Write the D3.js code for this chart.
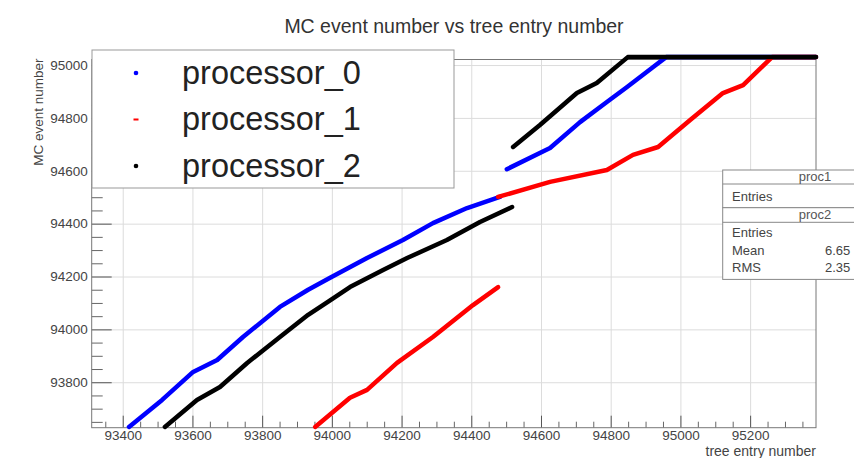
<!DOCTYPE html>
<html>
<head>
<meta charset="utf-8">
<script src="https://cdn.jsdelivr.net/npm/d3@7"></script>
<style>
  html, body { margin: 0; padding: 0; background: #fff; }
  svg { display: block; font-family: "Liberation Sans", Arial, sans-serif; }
</style>
</head>
<body>
<svg id="chart" width="854" height="458"></svg>
<script>
// ---------- data (tree entry number, MC event number) ----------
const proc0SegA = [[93418,93631],[93513,93733],[93602,93839],[93671,93884],[93745,93971],[93851,94085],[93932,94150],[93995,94195],[94101,94270],[94204,94338],[94290,94402],[94388,94459],[94482,94501]];
const proc0SegB = [[94502,94606],[94626,94686],[94712,94784],[94789,94860],[94847,94917],[94921,94992],[94959,95030],[95389,95030]];
const proc1SegA = [[93952,93631],[94052,93741],[94101,93771],[94187,93873],[94290,93971],[94405,94092],[94477,94160]];
const proc1SegB = [[94477,94501],[94626,94558],[94789,94603],[94864,94660],[94936,94690],[95028,94792],[95122,94894],[95180,94924],[95263,95030],[95389,95030]];
const proc2SegA = [[93521,93631],[93613,93733],[93679,93782],[93757,93873],[93851,93971],[93932,94055],[93995,94110],[94052,94160],[94147,94225],[94216,94270],[94330,94338],[94425,94406],[94517,94463]];
const proc2SegB = [[94520,94690],[94597,94773],[94703,94894],[94760,94932],[94849,95030],[95389,95030]];

const seriesNames = ["processor_0", "processor_1", "processor_2"];
const seriesColors = ["#0000ff", "#ff0000", "#000000"];
const seriesSegments = [[proc0SegA, proc0SegB], [proc1SegA, proc1SegB], [proc2SegA, proc2SegB]];

const xMajorTicks = [93400, 93600, 93800, 94000, 94200, 94400, 94600, 94800, 95000, 95200];
const yMajorTicks = [93800, 94000, 94200, 94400, 94600, 94800, 95000];
const xDomain = [93311, 95389];
const yDomain = [93628, 95021];

const titleText = "MC event number vs tree entry number";
const xTitle = "tree entry number";
const yTitle = "MC event number";

const statsProc1 = { name: "proc1", rows: [["Entries", ""]] };
const statsProc2 = { name: "proc2", rows: [["Entries", ""], ["Mean", "6.65"], ["RMS", "2.35"]] };

// ---------- layout ----------
const svg = d3.select("#chart");
const L = 91.7, R = 816, T = 59.5, B = 427.7;
const W = R - L, H = B - T;

const x = d3.scaleLinear().domain(xDomain).range([L, R]);
const y = d3.scaleLinear().domain(yDomain).range([B, T]);

svg.append("rect").attr("width", 854).attr("height", 458).attr("fill", "#fff");

// title
svg.append("text").attr("x", 454).attr("y", 33).attr("text-anchor", "middle")
  .attr("font-size", 19.5).attr("fill", "#333").text(titleText);

// grid
const gx = svg.append("g").attr("transform", `translate(0,${B})`)
  .call(d3.axisBottom(x).tickValues(xMajorTicks).tickSize(-H).tickFormat(""));
gx.select(".domain").remove();
gx.selectAll("line").attr("stroke", "#dcdcdc").attr("stroke-width", 1);
const gy = svg.append("g").attr("transform", `translate(${L},0)`)
  .call(d3.axisLeft(y).tickValues(yMajorTicks).tickSize(-W).tickFormat(""));
gy.select(".domain").remove();
gy.selectAll("line").attr("stroke", "#dcdcdc").attr("stroke-width", 1);

// minor ticks
const xMinor = d3.range(93350, 95389, 50).filter(v => v % 200 !== 0);
const yMinor = d3.range(93650, 95021, 50).filter(v => v % 200 !== 0);
const mx = svg.append("g").attr("transform", `translate(0,${B})`)
  .call(d3.axisBottom(x).tickValues(xMinor).tickSize(-6).tickFormat(""));
mx.select(".domain").remove();
mx.selectAll("line").attr("stroke", "#666");
const my = svg.append("g").attr("transform", `translate(${L},0)`)
  .call(d3.axisLeft(y).tickValues(yMinor).tickSize(-11).tickFormat(""));
my.select(".domain").remove();
my.selectAll("line").attr("stroke", "#666");

// major ticks with labels
const ax = svg.append("g").attr("transform", `translate(0,${B})`)
  .call(d3.axisBottom(x).tickValues(xMajorTicks).tickSize(-12).tickPadding(3).tickFormat(d3.format("d")));
ax.select(".domain").remove();
ax.selectAll("line").attr("stroke", "#555");
ax.selectAll("text").attr("font-size", 13.5).attr("fill", "#444")
  .attr("font-family", "Liberation Sans, Arial, sans-serif").attr("dy", "0.71em");
const ay = svg.append("g").attr("transform", `translate(${L},0)`)
  .call(d3.axisLeft(y).tickValues(yMajorTicks).tickSize(-20).tickPadding(4).tickFormat(d3.format("d")));
ay.select(".domain").remove();
ay.selectAll("line").attr("stroke", "#555");
ay.selectAll("text").attr("font-size", 13.5).attr("fill", "#444")
  .attr("font-family", "Liberation Sans, Arial, sans-serif");
ay.selectAll(".tick text").attr("x", -4);

// frame
svg.append("rect").attr("x", L).attr("y", T).attr("width", W).attr("height", H)
  .attr("fill", "none").attr("stroke", "#777").attr("stroke-width", 1);

// axis titles
svg.append("text").attr("x", R).attr("y", 456).attr("text-anchor", "end")
  .attr("font-size", 14).attr("fill", "#444").text(xTitle);
svg.append("text").attr("transform", `translate(43,${T - 1}) rotate(-90)`).attr("text-anchor", "end")
  .attr("font-size", 13.5).attr("fill", "#444").text(yTitle);

// series
const line = d3.line().x(d => x(d[0])).y(d => y(d[1]));
seriesSegments.forEach((segs, i) => {
  segs.forEach(seg => {
    svg.append("path").datum(seg).attr("d", line)
      .attr("fill", "none").attr("stroke", seriesColors[i])
      .attr("stroke-width", 4.5).attr("stroke-linejoin", "round").attr("stroke-linecap", "round");
  });
});

// legend
const lg = svg.append("g");
lg.append("rect").attr("x", 92).attr("y", 50).attr("width", 362).attr("height", 138)
  .attr("fill", "#fff").attr("stroke", "#999").attr("stroke-width", 1);
const legendRowY = [73, 119.5, 166];
seriesNames.forEach((name, i) => {
  if (i === 1) {
    lg.append("rect").attr("x", 133.5).attr("y", legendRowY[i] - 1).attr("width", 5).attr("height", 2).attr("fill", seriesColors[i]);
  } else {
    lg.append("circle").attr("cx", 136).attr("cy", legendRowY[i]).attr("r", 2.3).attr("fill", seriesColors[i]);
  }
  lg.append("text").attr("x", 182).attr("y", legendRowY[i] + 10.5)
    .attr("font-size", 32.5).attr("fill", "#222").text(name);
});

// stats boxes
function statsBox(top, headerH, rowH, stats) {
  const g = svg.append("g");
  const h = headerH + rowH * stats.rows.length + 4;
  g.append("rect").attr("x", 722.7).attr("y", top).attr("width", 160).attr("height", h)
    .attr("fill", "#fff").attr("stroke", "#888").attr("stroke-width", 1);
  g.append("line").attr("x1", 722.7).attr("x2", 882).attr("y1", top + headerH).attr("y2", top + headerH)
    .attr("stroke", "#888");
  g.append("text").attr("x", 815).attr("y", top + headerH - 3).attr("text-anchor", "middle")
    .attr("font-size", 13).attr("fill", "#555").text(stats.name);
  stats.rows.forEach((r, i) => {
    const by = top + headerH + rowH * (i + 1) - 3;
    g.append("text").attr("x", 732).attr("y", by).attr("font-size", 13).attr("fill", "#444").text(r[0]);
    if (r[1]) g.append("text").attr("x", 825).attr("y", by).attr("font-size", 13).attr("fill", "#444").text(r[1]);
  });
  return top + h;
}
statsBox(170, 14, 19.7, statsProc1);
statsBox(207.7, 14.6, 17.7, statsProc2);
</script>
</body>
</html>
